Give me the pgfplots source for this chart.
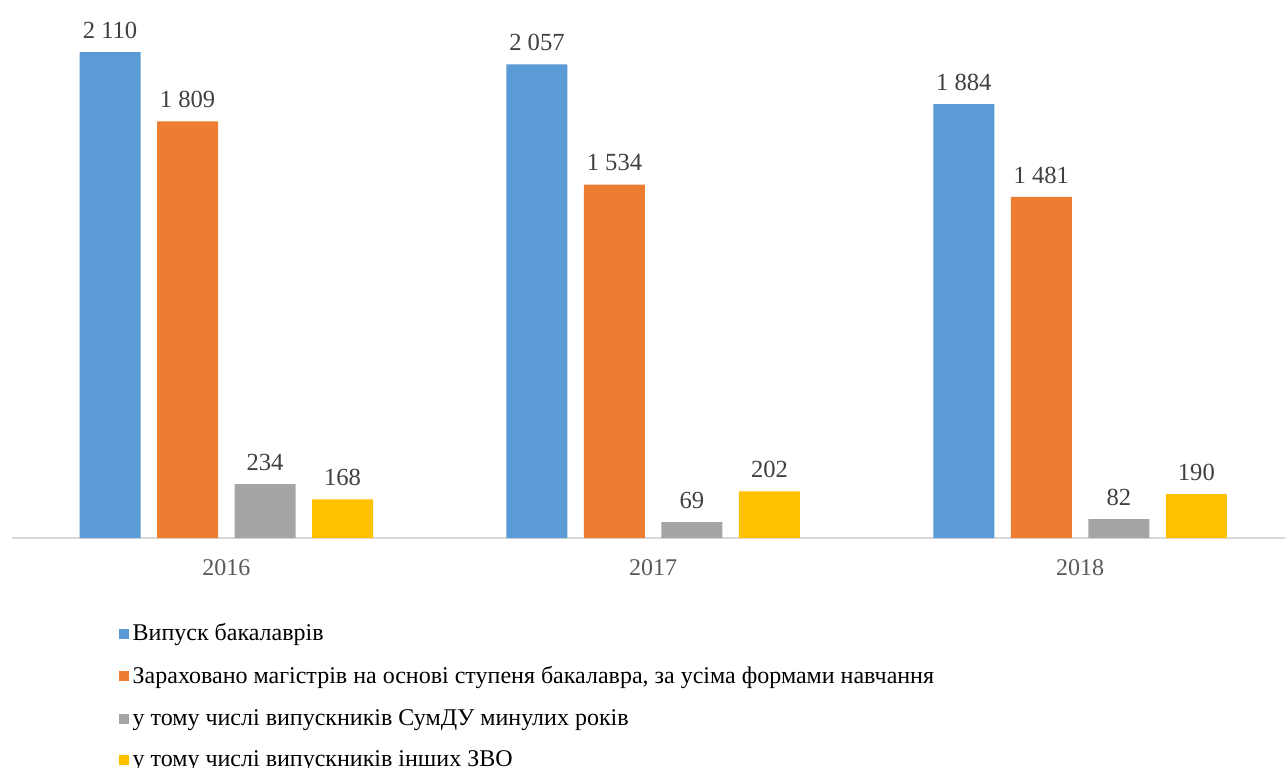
\documentclass[border=0pt]{standalone}
\usepackage{pgfplots}
\pgfplotsset{compat=1.18}
\usepackage{fontspec}
\setmainfont{Liberation Serif}
\definecolor{cblue}{HTML}{5B9BD5}
\definecolor{corange}{HTML}{ED7D31}
\definecolor{cgray}{HTML}{A5A5A5}
\definecolor{cyellow}{HTML}{FFC000}
\definecolor{labgray}{HTML}{404040}
\definecolor{tickgray}{HTML}{595959}
\definecolor{axgray}{HTML}{D9D9D9}
\begin{document}
\begin{tikzpicture}
\path[use as bounding box, clip] (0,0) rectangle (642.5pt,383.5pt);
\begin{axis}[
  at={(6pt,114.5pt)}, anchor=south west,
  scale only axis, width=636.5pt, height=269pt,
  xmin=-0.502, xmax=2.48, ymin=0, ymax=2336,
  axis y line=none, axis x line*=bottom,
  x axis line style={draw=axgray, line width=0.75pt, -},
  xtick={0,1,2}, xticklabels={2016,2017,2018},
  major tick length=0pt,
  xticklabel style={font=\fontsize{12}{14}\selectfont, text=tickgray, yshift=-7pt},
  ybar, bar width=30.5pt,
  nodes near coords,
  every node near coord/.append style={font=\fontsize{12.3}{14}\selectfont, text=labgray, yshift=3.3pt},
  /pgf/number format/assume math mode=true,
  /pgf/number format/1000 sep={\ },
  legend style={at={(0.0835,-0.1506)}, anchor=north west, draw=none, fill=none,
    font=\fontsize{12}{14}\selectfont, row sep=7.35pt, inner sep=0pt,
    /tikz/every even column/.append style={column sep=2pt}},
  legend cell align=left,
  legend image code/.code={\fill[#1] (0pt,-2.5pt) rectangle (5pt,2.5pt);},
  clip=false,
]
\addplot[fill=cblue, draw=none, bar shift=-58.125pt] coordinates {(0,2110) (1,2057) (2,1884)};
\addplot[fill=corange, draw=none, bar shift=-19.375pt] coordinates {(0,1809) (1,1534) (2,1481)};
\addplot[fill=cgray, draw=none, bar shift=19.375pt] coordinates {(0,234) (1,69) (2,82)};
\addplot[fill=cyellow, draw=none, bar shift=58.125pt] coordinates {(0,168) (1,202) (2,190)};
\legend{Випуск бакалаврів, Зараховано магістрів на основі ступеня бакалавра{,} за усіма формами навчання, у тому числі випускників СумДУ минулих років, у тому числі випускників інших ЗВО}
\end{axis}
\end{tikzpicture}
\end{document}
